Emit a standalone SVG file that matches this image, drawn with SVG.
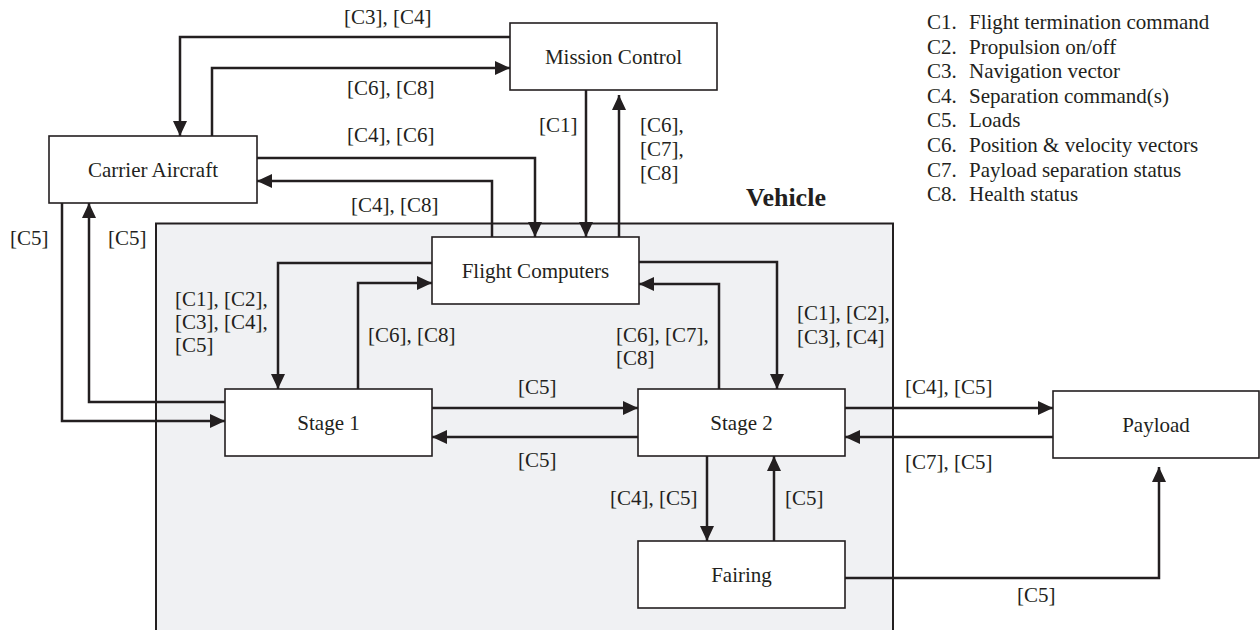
<svg xmlns="http://www.w3.org/2000/svg" width="1260" height="630" viewBox="0 0 1260 630">
  <style>
    .node rect { fill: #ffffff; stroke: #231f20; stroke-width: 1.6; }
    .node text { font-family: "Liberation Serif", "Times New Roman", serif; font-size: 21px; fill: #231f20; text-anchor: middle; }
    .conn path { fill: none; stroke: #231f20; stroke-width: 2.5; marker-end: url(#ah); }
    .conn path.plain { marker-end: none; }
    .lbl { font-family: "Liberation Serif", "Times New Roman", serif; font-size: 21px; fill: #231f20; }
    .legend text { font-family: "Liberation Serif", "Times New Roman", serif; font-size: 21px; fill: #231f20; }
  </style>
  <defs>
    <marker id="ah" viewBox="0 0 15 14" refX="15" refY="7" markerWidth="15" markerHeight="14" orient="auto" markerUnits="userSpaceOnUse">
      <path d="M0,0 L15,7 L0,14 z" fill="#231f20"/>
    </marker>
  </defs>

  <rect width="1260" height="630" fill="#ffffff"/>

  <!-- Vehicle boundary -->
  <g id="vehicle">
    <rect x="156" y="223.5" width="737" height="420" fill="#f0f1f3" stroke="#231f20" stroke-width="2"/>
    <text x="746" y="206" font-family="'Liberation Serif', 'Times New Roman', serif" font-size="26" font-weight="bold" fill="#231f20">Vehicle</text>
  </g>

  <!-- Connectors -->
  <g id="connectors" class="conn">
    <path d="M510,37 H180 V136"/>
    <path d="M212,136 V68 H510"/>
    <path d="M257,158 H535 V237"/>
    <path d="M492,237 V181 H257"/>
    <path d="M586,90 V237"/>
    <path d="M619,237 V95"/>
    <path d="M62,203 V421 H225"/>
    <path d="M225,402 H89 V203"/>
    <path d="M432,263 H278 V389"/>
    <path d="M358,389 V283 H432"/>
    <path d="M432,408 H638"/>
    <path d="M638,437 H432"/>
    <path d="M639,262 H777 V389"/>
    <path d="M719,389 V284 H639"/>
    <path d="M845,408 H1053"/>
    <path d="M1053,437 H845"/>
    <path d="M707,456 V541"/>
    <path d="M774,541 V456"/>
    <path d="M845,578 H1159 V467"/>
  </g>

  <!-- Connector labels -->
  <g id="labels" class="lbl">
    <text x="344" y="24">[C3], [C4]</text>
    <text x="347" y="95">[C6], [C8]</text>
    <text x="347" y="142">[C4], [C6]</text>
    <text x="351" y="212">[C4], [C8]</text>
    <text x="539" y="132">[C1]</text>
    <text x="640" y="132">[C6],</text>
    <text x="640" y="156">[C7],</text>
    <text x="640" y="180">[C8]</text>
    <text x="10" y="245">[C5]</text>
    <text x="108" y="245">[C5]</text>
    <text x="175" y="306">[C1], [C2],</text>
    <text x="175" y="329">[C3], [C4],</text>
    <text x="175" y="352">[C5]</text>
    <text x="368" y="342">[C6], [C8]</text>
    <text x="616" y="342">[C6], [C7],</text>
    <text x="616" y="365">[C8]</text>
    <text x="797" y="320">[C1], [C2],</text>
    <text x="797" y="344">[C3], [C4]</text>
    <text x="518" y="394">[C5]</text>
    <text x="518" y="467">[C5]</text>
    <text x="905" y="394">[C4], [C5]</text>
    <text x="905" y="469">[C7], [C5]</text>
    <text x="610" y="505">[C4], [C5]</text>
    <text x="785" y="505">[C5]</text>
    <text x="1017" y="602">[C5]</text>
  </g>

  <!-- Nodes -->
  <g id="mission-control" class="node">
    <rect x="510" y="23" width="207" height="67"/>
    <text x="613.5" y="64">Mission Control</text>
  </g>
  <g id="carrier-aircraft" class="node">
    <rect x="49" y="136" width="208" height="67"/>
    <text x="153" y="177">Carrier Aircraft</text>
  </g>
  <g id="flight-computers" class="node">
    <rect x="432" y="237" width="207" height="67"/>
    <text x="535.5" y="278">Flight Computers</text>
  </g>
  <g id="stage-1" class="node">
    <rect x="225" y="389" width="207" height="67"/>
    <text x="328.5" y="430">Stage 1</text>
  </g>
  <g id="stage-2" class="node">
    <rect x="638" y="389" width="207" height="67"/>
    <text x="741.5" y="430">Stage 2</text>
  </g>
  <g id="payload" class="node">
    <rect x="1053" y="391" width="206" height="67"/>
    <text x="1156" y="432">Payload</text>
  </g>
  <g id="fairing" class="node">
    <rect x="638" y="541" width="207" height="67"/>
    <text x="741.5" y="582">Fairing</text>
  </g>

  <!-- Legend -->
  <g id="legend" class="legend">
    <text x="927" y="29">C1.</text><text x="969" y="29">Flight termination command</text>
    <text x="927" y="53.6">C2.</text><text x="969" y="53.6">Propulsion on/off</text>
    <text x="927" y="78.2">C3.</text><text x="969" y="78.2">Navigation vector</text>
    <text x="927" y="102.8">C4.</text><text x="969" y="102.8">Separation command(s)</text>
    <text x="927" y="127.4">C5.</text><text x="969" y="127.4">Loads</text>
    <text x="927" y="152">C6.</text><text x="969" y="152">Position &amp; velocity vectors</text>
    <text x="927" y="176.6">C7.</text><text x="969" y="176.6">Payload separation status</text>
    <text x="927" y="201.2">C8.</text><text x="969" y="201.2">Health status</text>
  </g>
</svg>
